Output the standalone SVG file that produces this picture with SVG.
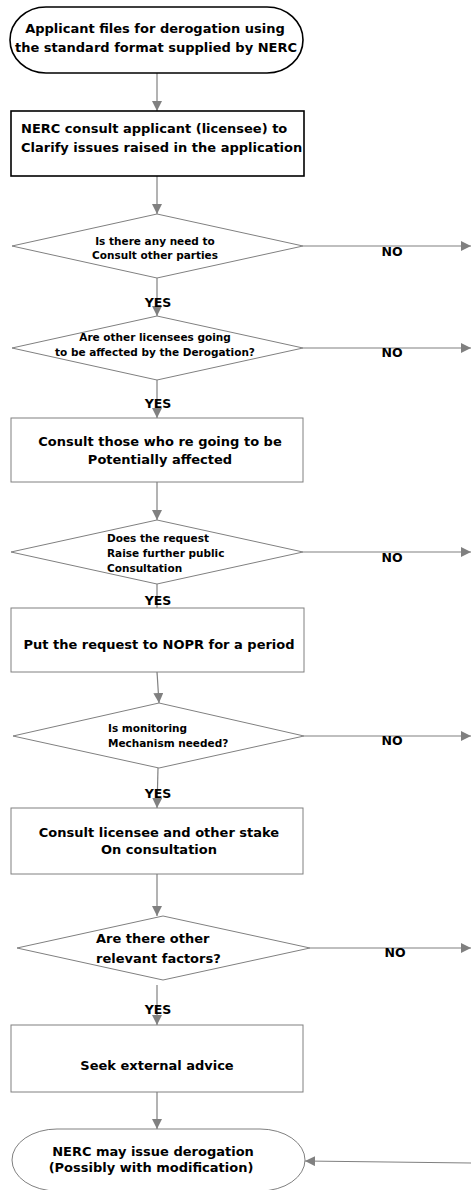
<svg xmlns="http://www.w3.org/2000/svg" width="471" height="1190" viewBox="0 0 471 1190">
<style>
text{font-family:"DejaVu Sans","Liberation Sans",Arial,sans-serif;font-weight:bold;fill:#000}
.t13{font-size:13px}
.t10{font-size:10.5px}
.lbl{font-size:12.5px}
.c{text-anchor:middle}
.blk{fill:#fff;stroke:#000;stroke-width:1.6}
.gry{fill:#fff;stroke:#808080;stroke-width:1}
.ln{fill:none;stroke:#808080;stroke-width:1.2}
</style>
<defs>
<marker id="ah" viewBox="0 0 10 10" refX="10" refY="5" markerWidth="10" markerHeight="10" markerUnits="userSpaceOnUse" orient="auto">
<path d="M0,0 L10,5 L0,10 z" fill="#808080"/>
</marker>
</defs>
<g id="connectors">
<line class="ln" x1="157" y1="73" x2="157" y2="111" marker-end="url(#ah)"/>
<line class="ln" x1="157" y1="176" x2="157" y2="214" marker-end="url(#ah)"/>
<line class="ln" x1="157" y1="278" x2="157" y2="316" marker-end="url(#ah)"/>
<line class="ln" x1="157" y1="380" x2="157" y2="418" marker-end="url(#ah)"/>
<line class="ln" x1="157" y1="482" x2="157" y2="520" marker-end="url(#ah)"/>
<line class="ln" x1="157" y1="584" x2="157" y2="608"/>
<line class="ln" x1="157" y1="672" x2="159" y2="703" marker-end="url(#ah)"/>
<line class="ln" x1="158" y1="768" x2="157" y2="808" marker-end="url(#ah)"/>
<line class="ln" x1="157" y1="874" x2="157" y2="916" marker-end="url(#ah)"/>
<line class="ln" x1="157" y1="985" x2="157" y2="1025" marker-end="url(#ah)"/>
<line class="ln" x1="157" y1="1092" x2="157" y2="1129" marker-end="url(#ah)"/>
<line class="ln" x1="303" y1="246" x2="471" y2="246" marker-end="url(#ah)"/>
<line class="ln" x1="303" y1="348" x2="471" y2="348" marker-end="url(#ah)"/>
<line class="ln" x1="303" y1="552" x2="471" y2="552" marker-end="url(#ah)"/>
<line class="ln" x1="304" y1="736" x2="471" y2="736" marker-end="url(#ah)"/>
<line class="ln" x1="310" y1="948" x2="471" y2="948" marker-end="url(#ah)"/>
<line class="ln" x1="471" y1="1163" x2="305" y2="1161" marker-end="url(#ah)"/>
<text class="lbl c" x="158" y="307">YES</text>
<text class="lbl c" x="158" y="408">YES</text>
<text class="lbl c" x="158" y="605">YES</text>
<text class="lbl c" x="158" y="798">YES</text>
<text class="lbl c" x="158" y="1014">YES</text>
<text class="lbl c" x="392" y="256">NO</text>
<text class="lbl c" x="392" y="357">NO</text>
<text class="lbl c" x="392" y="562">NO</text>
<text class="lbl c" x="392" y="745">NO</text>
<text class="lbl c" x="395" y="957">NO</text>
</g>
<g id="start">
<rect class="blk" x="10" y="7" width="293" height="66" rx="36" ry="33"/>
<text class="t13 c" x="155" y="33">Applicant files for derogation using</text>
<text class="t13 c" x="156" y="52" font-size="12.7">the standard format supplied by NERC</text>
</g>
<g id="consult-applicant">
<rect class="blk" x="11" y="111" width="293" height="65"/>
<text class="t13" x="21" y="133">NERC consult applicant (licensee) to</text>
<text class="t13" x="21" y="152">Clarify issues raised in the application</text>
</g>
<g id="need-consult">
<polygon class="gry" points="157,214 303,246 157,278 12,246"/>
<text class="t10 c" x="155" y="245">Is there any need to</text>
<text class="t10 c" x="155" y="259">Consult other parties</text>
</g>
<g id="others-affected">
<polygon class="gry" points="157,316 303,348 157,380 12,348"/>
<text class="t10 c" x="155" y="341">Are other licensees going</text>
<text class="t10 c" x="155" y="356">to be affected by the Derogation?</text>
</g>
<g id="consult-affected">
<rect class="gry" x="11" y="418" width="292" height="64"/>
<text class="t13 c" x="160" y="446">Consult those who re going to be</text>
<text class="t13 c" x="160" y="464">Potentially affected</text>
</g>
<g id="public-consultation">
<polygon class="gry" points="157,520 303,552 157,584 11,552"/>
<text class="t10" x="107" y="542">Does the request</text>
<text class="t10" x="107" y="557">Raise further public</text>
<text class="t10" x="107" y="572">Consultation</text>
</g>
<g id="nopr">
<rect class="gry" x="11" y="608" width="293" height="64"/>
<text class="t13 c" x="159" y="649">Put the request to NOPR for a period</text>
</g>
<g id="monitoring">
<polygon class="gry" points="159,703 304,736 159,768 13,736"/>
<text class="t10" x="108" y="732">Is monitoring</text>
<text class="t10" x="108" y="747">Mechanism needed?</text>
</g>
<g id="consult-stake">
<rect class="gry" x="11" y="808" width="292" height="66"/>
<text class="t13 c" x="159" y="837">Consult licensee and other stake</text>
<text class="t13 c" x="159" y="854">On consultation</text>
</g>
<g id="relevant-factors">
<polygon class="gry" points="163,916 310,948 163,980 17,948"/>
<text class="t13" x="96" y="943">Are there other</text>
<text class="t13" x="96" y="963">relevant factors?</text>
</g>
<g id="external-advice">
<rect class="gry" x="11" y="1025" width="292" height="67"/>
<text class="t13 c" x="157" y="1070">Seek external advice</text>
</g>
<g id="end">
<rect class="gry" x="12" y="1129" width="293" height="62" rx="45" ry="31"/>
<text class="t13 c" x="153" y="1156" font-size="13.5">NERC may issue derogation</text>
<text class="t13 c" x="151" y="1172" font-size="13.8">(Possibly with modification)</text>
</g>
</svg>
